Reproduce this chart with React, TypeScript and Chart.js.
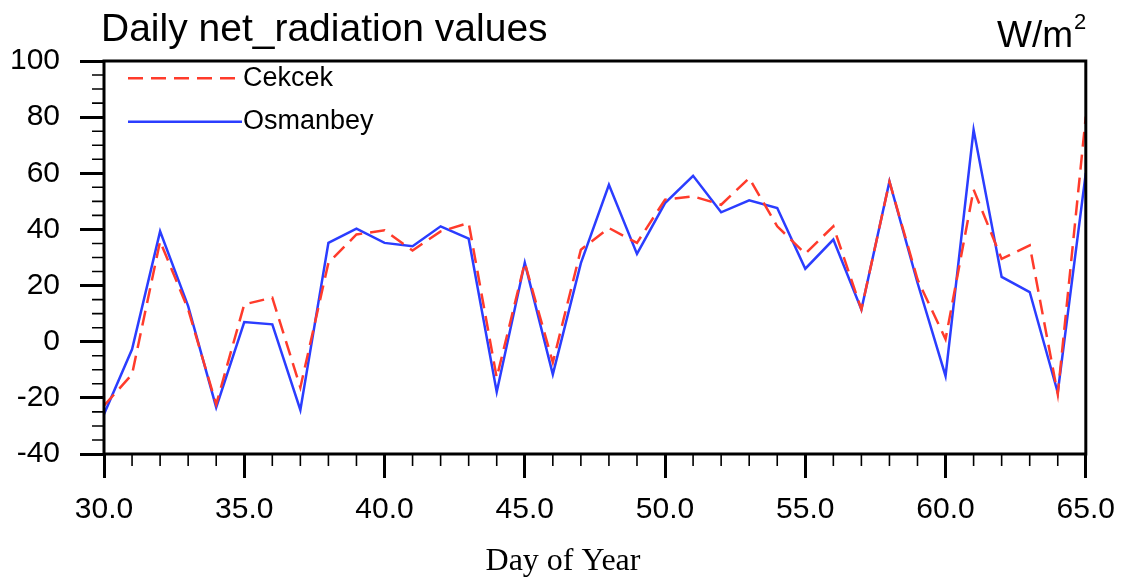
import React, { useEffect, useRef } from "react";
import { Chart, registerables } from "chart.js";

Chart.register(...registerables);

const days = [30, 31, 32, 33, 34, 35, 36, 37, 38, 39, 40, 41, 42, 43, 44, 45, 46, 47, 48, 49, 50, 51, 52, 53, 54, 55, 56, 57, 58, 59, 60, 61, 62, 63, 64, 65];
const cekcek = [-22.8, -11.6, 35.8, 11.5, -22.3, 13.3, 15.7, -16.3, 28.1, 38.2, 39.7, 32.5, 39.3, 42.3, -12.8, 28.1, -7.4, 32.8, 40.5, 35.2, 50.6, 51.8, 48.8, 58.3, 41.1, 31.4, 41.1, 11.5, 57.0, 22.2, 0.9, 54.2, 29.5, 34.3, -18.7, 80.2];
const osmanbey = [-25.8, -2.7, 39.3, 12.7, -23.4, 7.0, 6.2, -24.3, 35.2, 40.3, 35.2, 34.0, 41.1, 36.7, -17.9, 28.1, -11.6, 28.0, 55.9, 31.3, 49.4, 59.1, 46.1, 50.4, 47.6, 26.0, 36.4, 11.5, 57.1, 21.0, -12.2, 75.5, 23.1, 17.7, -18.1, 60.1];
const seriesNames = ["Cekcek", "Osmanbey"];
const xTickValues = [30, 35, 40, 45, 50, 55, 60, 65];
const yTickValues = [-40, -20, 0, 20, 40, 60, 80, 100];
const titleText = "Daily net_radiation values";
const unitText = "W/m";
const unitSup = "2";
const xTitle = "Day of Year";

const SANS = '"Liberation Sans", Arial, Helvetica, sans-serif';
const SERIF = '"Liberation Serif", "Times New Roman", serif';

const overlay = {
  id: "overlay",
  afterDraw(chart: any) {
    const { ctx, chartArea: a, scales } = chart;
    const x = scales.x;
    const y = scales.y;
    ctx.save();
    ctx.strokeStyle = "#000";
    // minor ticks
    ctx.lineWidth = 1.6;
    ctx.beginPath();
    for (let d = x.min; d <= x.max; d += 1) {
      if (xTickValues.includes(d)) continue;
      const px = x.getPixelForValue(d);
      ctx.moveTo(px, a.bottom);
      ctx.lineTo(px, a.bottom + 12);
    }
    for (let v = y.min; v <= y.max; v += 5) {
      if (yTickValues.includes(v)) continue;
      const py = y.getPixelForValue(v);
      ctx.moveTo(a.left - 12, py);
      ctx.lineTo(a.left, py);
    }
    ctx.stroke();
    // frame
    ctx.lineWidth = 3;
    ctx.strokeRect(a.left, a.top, a.right - a.left, a.bottom - a.top);

    // title
    ctx.fillStyle = "#000";
    ctx.textBaseline = "alphabetic";
    ctx.textAlign = "left";
    ctx.font = `39px ${SANS}`;
    ctx.fillText(titleText, 101, 41);
    // units
    ctx.font = `37px ${SANS}`;
    ctx.textAlign = "right";
    ctx.fillText(unitText, 1073, 47);
    ctx.textAlign = "left";
    ctx.font = `22px ${SANS}`;
    ctx.fillText(unitSup, 1074, 29);
    // x title
    ctx.font = `32px ${SERIF}`;
    ctx.textAlign = "center";
    ctx.fillText(xTitle, 563, 570);

    // legend
    const rows = [78.3, 121.7];
    chart.data.datasets.forEach((ds: any, i: number) => {
      const ly = rows[i];
      ctx.save();
      ctx.strokeStyle = ds.borderColor;
      ctx.lineWidth = ds.borderWidth;
      ctx.setLineDash(ds.borderDash || []);
      ctx.beginPath();
      ctx.moveTo(128, ly);
      ctx.lineTo(242, ly);
      ctx.stroke();
      ctx.restore();
      ctx.fillStyle = "#000";
      ctx.font = `27px ${SANS}`;
      ctx.textAlign = "left";
      ctx.textBaseline = "middle";
      ctx.fillText(ds.label, 243, ly);
    });
    ctx.restore();
  },
};

export default function App() {
  const ref = useRef<HTMLCanvasElement | null>(null);
  useEffect(() => {
    if (!ref.current) return;
    const chart = new Chart(ref.current, {
      type: "line",
      data: {
        datasets: [
          {
            label: seriesNames[0],
            data: days.map((d, i) => ({ x: d, y: cekcek[i] })),
            borderColor: "#ff3b2b",
            borderWidth: 2.5,
            borderDash: [15, 8],
            pointRadius: 0,
            tension: 0,
            fill: false,
          },
          {
            label: seriesNames[1],
            data: days.map((d, i) => ({ x: d, y: osmanbey[i] })),
            borderColor: "#2b3dff",
            borderWidth: 2.5,
            pointRadius: 0,
            tension: 0,
            fill: false,
          },
        ],
      },
      options: {
        animation: false,
        responsive: true,
        maintainAspectRatio: false,
        layout: { padding: { left: 0, right: 43, top: 61, bottom: 0 } },
        plugins: {
          legend: { display: false },
          title: { display: false },
          tooltip: { enabled: false },
        },
        scales: {
          x: {
            type: "linear",
            min: 30,
            max: 65,
            afterFit: (s: any) => {
              s.height = 124;
            },
            afterBuildTicks: (s: any) => {
              s.ticks = xTickValues.map((v) => ({ value: v }));
            },
            ticks: {
              callback: (v: any) => Number(v).toFixed(1),
              font: { family: SANS, size: 30 },
              color: "#000",
              padding: 14,
              maxRotation: 0,
              autoSkip: false,
            },
            grid: {
              drawOnChartArea: false,
              drawTicks: true,
              tickLength: 24,
              tickWidth: 3,
              tickColor: "#000",
            },
            border: { display: false },
          },
          y: {
            type: "linear",
            min: -40,
            max: 100,
            afterFit: (s: any) => {
              s.width = 104;
            },
            afterBuildTicks: (s: any) => {
              s.ticks = yTickValues.map((v) => ({ value: v }));
            },
            ticks: {
              font: { family: SANS, size: 30 },
              color: "#000",
              padding: 20,
              autoSkip: false,
            },
            grid: {
              drawOnChartArea: false,
              drawTicks: true,
              tickLength: 24,
              tickWidth: 3,
              tickColor: "#000",
            },
            border: { display: false },
          },
        },
      },
      plugins: [overlay],
    });
    return () => chart.destroy();
  }, []);
  return (
    <div style={{ position: "fixed", left: 0, top: 0, width: 1129, height: 578, background: "#fff" }}>
      <canvas ref={ref} />
    </div>
  );
}
